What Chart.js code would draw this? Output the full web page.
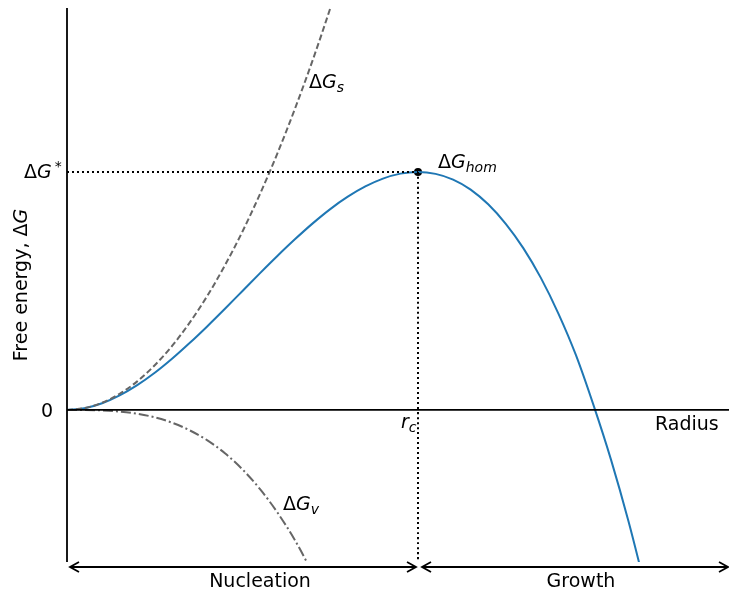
<!DOCTYPE html>
<html>
 <head>
  <title>Nucleation free energy</title>
  <meta charset="utf-8">
  <script src="https://cdn.jsdelivr.net/npm/chart.js"></script>
  <style>
    body { margin: 0; background: #ffffff; }
  </style>
 </head>
 <body>
  <canvas id="myChart" width="729" height="593"></canvas>
  <script type="text/javascript">
    // radius in units of r_c, energy in units of dG*
    var radius = [0, 0.05, 0.1, 0.15, 0.2, 0.25, 0.3, 0.35, 0.4, 0.45, 0.5, 0.55, 0.6, 0.65, 0.7, 0.75, 0.8,
                  0.85, 0.9, 0.95, 1.0, 1.05, 1.1, 1.15, 1.2, 1.25, 1.3, 1.35, 1.4, 1.45, 1.5, 1.55, 1.6, 1.65];
    var gHom = [0, 0.007, 0.028, 0.061, 0.104, 0.156, 0.216, 0.282, 0.352, 0.425, 0.5, 0.575, 0.648, 0.718, 0.784, 0.844, 0.896,
                0.939, 0.972, 0.993, 1.0, 0.992, 0.968, 0.926, 0.864, 0.782, 0.68, 0.555, 0.405, 0.23, 0.02, -0.21, -0.47, -0.76];
    var gSurf = [0, 0.008, 0.03, 0.068, 0.12, 0.188, 0.27, 0.368, 0.48, 0.608, 0.75, 0.908, 1.08, 1.268, 1.47, 1.688, 1.92];
    var gVol = [0, -0.0003, -0.002, -0.007, -0.016, -0.031, -0.054, -0.086, -0.128, -0.182, -0.25, -0.333, -0.432, -0.549, -0.686];
    var rCrit = 1;
    var gStar = 1;
    var xRange = [0, 1.886];
    var yRange = [-0.639, 1.689];

    function pts(ys) {
        return ys.map(function (y, i) { return { x: radius[i], y: y }; });
    }

    var FONT = '"DejaVu Sans"';

    function mathText(ctx, x, y, parts, size) {
        parts.forEach(function (p) {
            var s = (p.sub || p.sup) ? Math.round(size * 0.72) : size;
            ctx.font = (p.it ? 'italic ' : '') + s + 'px ' + FONT;
            var dy = p.sub ? size * 0.22 : (p.sup ? -size * 0.37 : 0);
            ctx.fillText(p.t, x, y + dy);
            x += ctx.measureText(p.t).width + (p.gap || 0);
        });
    }

    function arrowHead(ctx, x, y, dir) {
        ctx.beginPath();
        ctx.moveTo(x + dir * 9, y - 5);
        ctx.lineTo(x, y);
        ctx.lineTo(x + dir * 9, y + 5);
        ctx.stroke();
    }

    function doubleArrow(ctx, x1, x2, y) {
        ctx.beginPath();
        ctx.moveTo(x1, y);
        ctx.lineTo(x2, y);
        ctx.stroke();
        arrowHead(ctx, x1, y, 1);
        arrowHead(ctx, x2, y, -1);
    }

    var annotations = {
        id: 'annotations',
        afterDraw: function (chart) {
            var ctx = chart.ctx;
            var xs = chart.scales.x, ys = chart.scales.y;
            var area = chart.chartArea;
            ctx.save();
            ctx.fillStyle = '#000000';
            ctx.strokeStyle = '#000000';
            ctx.textBaseline = 'alphabetic';

            // left spine
            ctx.lineWidth = 1.8;
            ctx.beginPath();
            ctx.moveTo(area.left, area.top);
            ctx.lineTo(area.left, area.bottom);
            ctx.stroke();

            // tick labels
            ctx.font = '19px ' + FONT;
            ctx.textAlign = 'right';
            ctx.fillText('0', area.left - 14, ys.getPixelForValue(0) + 7);
            ctx.textAlign = 'left';
            mathText(ctx, 24, ys.getPixelForValue(gStar) + 6,
                [{ t: 'Δ' }, { t: 'G', it: true, gap: 3 }, { t: '*', sup: true }], 19);

            // curve labels
            var xc = xs.getPixelForValue(rCrit);
            mathText(ctx, xc + 20, ys.getPixelForValue(gStar) - 4,
                [{ t: 'Δ' }, { t: 'G', it: true }, { t: 'hom', it: true, sub: true }], 19);
            mathText(ctx, 309, 88, [{ t: 'Δ' }, { t: 'G', it: true }, { t: 's', it: true, sub: true }], 19);
            mathText(ctx, 283, 510, [{ t: 'Δ' }, { t: 'G', it: true }, { t: 'v', it: true, sub: true }], 19);
            mathText(ctx, xc - 17, ys.getPixelForValue(0) + 18, [{ t: 'r', it: true }, { t: 'c', it: true, sub: true }], 19);

            ctx.font = '19px ' + FONT;
            ctx.fillText('Radius', 655, ys.getPixelForValue(0) + 20);

            // y axis title
            ctx.save();
            ctx.translate(27, 285);
            ctx.rotate(-Math.PI / 2);
            ctx.textAlign = 'left';
            ctx.font = '19px ' + FONT;
            var t1 = 'Free energy, Δ';
            var w1 = ctx.measureText(t1).width;
            ctx.font = 'italic 19px ' + FONT;
            var w2 = ctx.measureText('G').width;
            mathText(ctx, -(w1 + w2) / 2, 0, [{ t: t1 }, { t: 'G', it: true }], 19);
            ctx.restore();

            // nucleation / growth arrows
            var ya = area.bottom + 5;
            ctx.lineWidth = 1.8;
            doubleArrow(ctx, area.left + 3, xc - 2, ya);
            doubleArrow(ctx, xc + 4, area.right - 1, ya);
            ctx.font = '19px ' + FONT;
            ctx.textAlign = 'center';
            ctx.fillText('Nucleation', 260, area.bottom + 25);
            ctx.fillText('Growth', 581, area.bottom + 25);
            ctx.restore();
        }
    };

    var ctx = document.getElementById('myChart').getContext('2d');
    var myChart = new Chart(ctx, {
        type: 'scatter',
        data: {
            datasets: [
                { data: [{ x: xRange[0], y: 0 }, { x: xRange[1], y: 0 }], borderColor: '#000000', borderWidth: 1.8 },
                { data: [{ x: xRange[0], y: gStar }, { x: rCrit, y: gStar }], borderColor: '#000000', borderWidth: 2, borderDash: [2, 3] },
                { data: [{ x: rCrit, y: gStar }, { x: rCrit, y: yRange[0] }], borderColor: '#000000', borderWidth: 2, borderDash: [2, 3] },
                { data: pts(gSurf), borderColor: '#666666', borderWidth: 2, borderDash: [6, 3] },
                { data: pts(gVol), borderColor: '#666666', borderWidth: 2, borderDash: [10, 3, 2, 3] },
                { data: pts(gHom), borderColor: '#1f77b4', borderWidth: 2 },
                { data: [{ x: rCrit, y: gStar }], pointRadius: 4, pointBackgroundColor: '#000000', pointBorderWidth: 0, showLine: false }
            ]
        },
        options: {
            responsive: false,
            animation: false,
            devicePixelRatio: 1,
            layout: { autoPadding: false, padding: { left: 67, right: 0, top: 8, bottom: 31 } },
            datasets: { scatter: { showLine: true, pointRadius: 0, cubicInterpolationMode: 'monotone' } },
            scales: {
                x: { type: 'linear', display: false, min: xRange[0], max: xRange[1] },
                y: { type: 'linear', display: false, min: yRange[0], max: yRange[1] }
            },
            plugins: { legend: { display: false }, tooltip: { enabled: false } }
        },
        plugins: [annotations]
    });
  </script>
 </body>
</html>
